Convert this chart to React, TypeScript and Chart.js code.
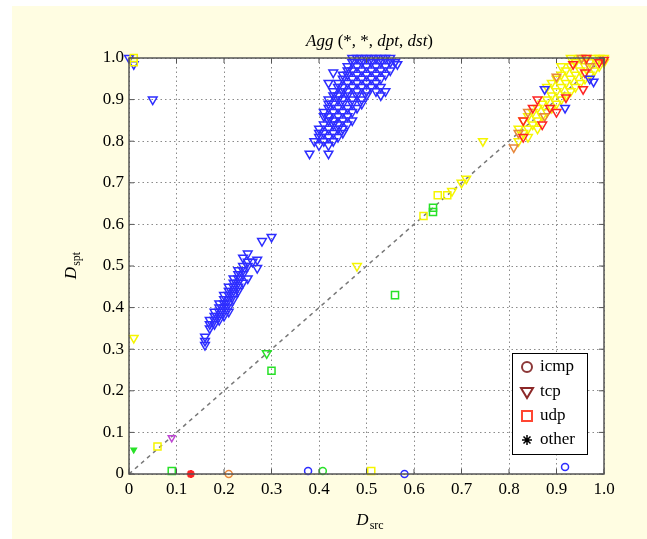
import React, { useEffect, useRef } from 'react';
import { Chart, registerables } from 'chart.js';
Chart.register(...registerables);

type P = [number, number];

const TICKS = [0, 0.1, 0.2, 0.3, 0.4, 0.5, 0.6, 0.7, 0.8, 0.9, 1.0];
const LEGEND_LABELS = ['icmp', 'tcp', 'udp', 'other'];
const TITLE_PARTS: [string, boolean][] = [['Agg', true], [' (*, *, ', false], ['dpt', true], [', ', false], ['dst', true], [')', false]];
const X_LABEL: [string, string] = ['D', 'src'];
const Y_LABEL: [string, string] = ['D', 'spt'];

// tcp (down-triangles), blue
const tcpBlue: P[] = [
  [0.0, 1.0], [0.01, 0.985], [0.05, 0.90],
  [0.47, 1.0], [0.48, 1.0], [0.49, 1.0], [0.50, 1.0], [0.51, 1.0], [0.52, 1.0], [0.53, 1.0], [0.54, 1.0], [0.55, 1.0],
  [0.47, 0.99], [0.49, 0.99], [0.51, 0.99], [0.53, 0.99], [0.55, 0.99], [0.56, 0.99],
  [0.46, 0.98], [0.48, 0.98], [0.50, 0.98], [0.52, 0.98], [0.54, 0.98], [0.565, 0.985],
  [0.46, 0.97], [0.47, 0.97], [0.49, 0.97], [0.51, 0.97], [0.53, 0.97], [0.55, 0.97],
  [0.45, 0.96], [0.46, 0.96], [0.48, 0.96], [0.50, 0.96], [0.52, 0.96], [0.54, 0.96],
  [0.45, 0.95], [0.47, 0.95], [0.49, 0.95], [0.51, 0.95], [0.53, 0.95],
  [0.44, 0.94], [0.46, 0.94], [0.48, 0.94], [0.50, 0.94], [0.52, 0.94],
  [0.44, 0.93], [0.45, 0.93], [0.47, 0.93], [0.49, 0.93], [0.51, 0.93], [0.53, 0.93],
  [0.43, 0.92], [0.45, 0.92], [0.46, 0.92], [0.48, 0.92], [0.50, 0.92], [0.52, 0.92], [0.54, 0.92],
  [0.43, 0.91], [0.44, 0.91], [0.46, 0.91], [0.48, 0.91], [0.50, 0.91], [0.53, 0.91],
  [0.42, 0.90], [0.44, 0.90], [0.45, 0.90], [0.47, 0.90], [0.49, 0.90],
  [0.42, 0.89], [0.43, 0.89], [0.45, 0.89], [0.47, 0.89], [0.49, 0.89],
  [0.42, 0.88], [0.44, 0.88], [0.46, 0.88], [0.48, 0.88],
  [0.41, 0.87], [0.43, 0.87], [0.45, 0.87], [0.47, 0.87],
  [0.41, 0.86], [0.42, 0.86], [0.44, 0.86], [0.46, 0.86],
  [0.42, 0.85], [0.43, 0.85], [0.45, 0.85], [0.47, 0.85],
  [0.41, 0.84], [0.43, 0.84], [0.44, 0.84], [0.46, 0.84],
  [0.40, 0.83], [0.42, 0.83], [0.44, 0.83], [0.45, 0.83],
  [0.40, 0.82], [0.41, 0.82], [0.43, 0.82], [0.45, 0.82],
  [0.40, 0.81], [0.42, 0.81], [0.44, 0.81],
  [0.39, 0.80], [0.41, 0.80], [0.43, 0.80],
  [0.40, 0.79], [0.42, 0.79],
  [0.38, 0.77], [0.42, 0.77], [0.42, 0.94], [0.43, 0.965],
  [0.30, 0.57], [0.28, 0.56], [0.25, 0.53],
  [0.24, 0.52], [0.27, 0.515], [0.25, 0.51], [0.26, 0.51],
  [0.24, 0.50], [0.25, 0.50], [0.27, 0.495],
  [0.23, 0.49], [0.24, 0.49], [0.23, 0.48], [0.24, 0.48],
  [0.22, 0.47], [0.23, 0.47], [0.25, 0.47],
  [0.22, 0.46], [0.23, 0.46], [0.24, 0.46],
  [0.21, 0.45], [0.22, 0.45], [0.23, 0.45],
  [0.21, 0.44], [0.22, 0.44], [0.23, 0.44],
  [0.20, 0.43], [0.21, 0.43], [0.22, 0.43],
  [0.20, 0.42], [0.21, 0.42], [0.22, 0.42],
  [0.19, 0.41], [0.20, 0.41], [0.21, 0.41],
  [0.19, 0.40], [0.20, 0.40], [0.21, 0.40],
  [0.18, 0.39], [0.19, 0.39], [0.20, 0.39], [0.21, 0.39],
  [0.18, 0.38], [0.19, 0.38], [0.20, 0.38],
  [0.17, 0.37], [0.18, 0.37], [0.19, 0.37],
  [0.17, 0.36], [0.18, 0.36], [0.17, 0.35],
  [0.16, 0.33], [0.16, 0.32], [0.16, 0.31],
  [0.875, 0.925], [0.918, 0.88], [0.978, 0.943], [0.97, 0.95],
];

const tcpYellow: P[] = [
  [0.01, 0.327], [0.48, 0.50], [0.68, 0.68], [0.70, 0.70], [0.71, 0.71], [0.745, 0.80],
  [0.82, 0.80], [0.82, 0.83], [0.83, 0.82], [0.83, 0.85], [0.84, 0.83], [0.84, 0.86],
  [0.85, 0.84], [0.85, 0.87], [0.86, 0.85], [0.86, 0.88], [0.87, 0.86], [0.87, 0.89],
  [0.88, 0.87], [0.88, 0.90], [0.88, 0.93], [0.89, 0.88], [0.89, 0.91], [0.89, 0.94],
  [0.90, 0.89], [0.90, 0.92], [0.90, 0.95], [0.91, 0.90], [0.91, 0.93], [0.91, 0.96],
  [0.92, 0.91], [0.92, 0.94], [0.92, 0.97], [0.93, 0.92], [0.93, 0.95], [0.93, 0.98],
  [0.94, 0.93], [0.94, 0.96], [0.94, 0.99], [0.95, 0.94], [0.95, 0.97], [0.95, 1.0],
  [0.96, 0.95], [0.96, 0.98], [0.97, 0.96], [0.97, 0.99], [0.98, 0.97], [0.98, 1.0],
  [0.99, 0.98], [0.99, 1.0], [1.0, 0.99], [1.0, 1.0], [0.96, 1.0], [0.93, 1.0],
  [0.91, 0.98], [0.86, 0.83], [0.84, 0.81],
];

const tcpRed: P[] = [
  [0.83, 0.81], [0.83, 0.85], [0.86, 0.90], [0.886, 0.88], [0.87, 0.84], [0.92, 0.905],
  [0.956, 0.925], [0.96, 0.965], [0.935, 0.985], [0.963, 1.0], [1.0, 0.995], [0.90, 0.87],
  [0.85, 0.88], [0.99, 0.99],
];

const tcpOrange: P[] = [
  [0.81, 0.785], [0.84, 0.87], [0.875, 0.86], [0.90, 0.955], [0.953, 1.0], [0.97, 0.98], [0.82, 0.82],
];

const tcpGreen: P[] = [[0.29, 0.29]];
const tcpGreenSmall: P[] = [[0.01, 0.058]];
const tcpPurple: P[] = [[0.09, 0.087]];

const udpYellow: P[] = [[0.01, 1.0], [0.01, 0.99], [0.06, 0.066], [0.51, 0.007], [0.62, 0.62], [0.65, 0.67], [0.67, 0.67]];
const udpGreen: P[] = [[0.09, 0.007], [0.30, 0.248], [0.56, 0.43], [0.64, 0.63], [0.64, 0.64]];

const icmpBlue: P[] = [[0.377, 0.007], [0.58, 0.0], [0.918, 0.017]];
const icmpGreen: P[] = [[0.408, 0.007]];
const icmpOrange: P[] = [[0.21, 0.0]];

const otherRed: P[] = [[0.13, 0.0]];

const DIAGONAL: P[] = [[0, 0], [1, 1]];

const BLUE = 'rgb(45,45,255)';
const YELLOW = 'rgb(245,245,0)';
const RED = 'rgb(255,35,35)';
const ORANGE = 'rgb(230,135,60)';
const GREEN = 'rgb(40,225,40)';
const PURPLE = 'rgb(190,70,210)';

const pts = (a: P[]) => a.map(([x, y]) => ({ x, y }));

function ds(data: P[], style: string, color: string, radius: number, rotation = 0, fill = false, bw = 1.5) {
  return {
    type: 'scatter' as const,
    data: pts(data),
    pointStyle: style,
    pointRotation: rotation,
    pointRadius: radius,
    pointBorderColor: color,
    pointBackgroundColor: fill ? color : 'rgba(0,0,0,0)',
    pointBorderWidth: bw,
    showLine: false,
    clip: false as any,
  };
}

const SERIF = '"Liberation Serif", "DejaVu Serif", serif';

const fmt = (v: number) => (Math.abs(v) < 1e-9 ? '0' : v.toFixed(1));

const decorPlugin = {
  id: 'decor',
  beforeDraw(chart: any) {
    const { ctx, chartArea: a } = chart;
    ctx.save();
    ctx.fillStyle = '#ffffff';
    ctx.fillRect(0, 0, chart.width, chart.height);
    ctx.fillStyle = '#fffde2';
    ctx.fillRect(12, 6, chart.width - 12, chart.height - 6);
    ctx.fillStyle = '#ffffff';
    ctx.fillRect(a.left, a.top, a.right - a.left, a.bottom - a.top);
    ctx.restore();
  },
  afterDraw(chart: any) {
    const { ctx, chartArea: a, scales } = chart;
    ctx.save();
    // box
    ctx.strokeStyle = '#555555';
    ctx.lineWidth = 1.5;
    ctx.strokeRect(a.left, a.top, a.right - a.left, a.bottom - a.top);
    // inward ticks
    ctx.lineWidth = 1;
    ctx.strokeStyle = '#555555';
    TICKS.forEach((v) => {
      const px = scales.x.getPixelForValue(v);
      ctx.beginPath();
      ctx.moveTo(px, a.bottom); ctx.lineTo(px, a.bottom - 5);
      ctx.moveTo(px, a.top); ctx.lineTo(px, a.top + 5);
      const py = scales.y.getPixelForValue(v);
      ctx.moveTo(a.left, py); ctx.lineTo(a.left + 5, py);
      ctx.moveTo(a.right, py); ctx.lineTo(a.right - 5, py);
      ctx.stroke();
    });
    // title
    ctx.fillStyle = '#000';
    ctx.textBaseline = 'alphabetic';
    const cx = (a.left + a.right) / 2 + 3;
    let total = 0;
    TITLE_PARTS.forEach(([t, it]) => {
      ctx.font = `${it ? 'italic ' : ''}17px ${SERIF}`;
      total += ctx.measureText(t).width;
    });
    let tx = cx - total / 2;
    TITLE_PARTS.forEach(([t, it]) => {
      ctx.font = `${it ? 'italic ' : ''}17px ${SERIF}`;
      ctx.textAlign = 'left';
      ctx.fillText(t, tx, 46);
      tx += ctx.measureText(t).width;
    });
    // x label
    const drawSub = (main: string, sub: string) => {
      ctx.font = `italic 17px ${SERIF}`;
      const w1 = ctx.measureText(main).width;
      ctx.font = `12px ${SERIF}`;
      const w2 = ctx.measureText(sub).width;
      const start = -(w1 + w2) / 2;
      ctx.textAlign = 'left';
      ctx.font = `italic 17px ${SERIF}`;
      ctx.fillText(main, start, 0);
      ctx.font = `12px ${SERIF}`;
      ctx.fillText(sub, start + w1 + 1, 4);
    };
    ctx.save();
    ctx.translate(cx, 525);
    drawSub(X_LABEL[0], X_LABEL[1]);
    ctx.restore();
    ctx.save();
    ctx.translate(76, (a.top + a.bottom) / 2);
    ctx.rotate(-Math.PI / 2);
    drawSub(Y_LABEL[0], Y_LABEL[1]);
    ctx.restore();
    // legend
    const lx = 512, ly = 353, lw = 75, lh = 101;
    ctx.fillStyle = '#ffffff';
    ctx.fillRect(lx, ly, lw, lh);
    ctx.strokeStyle = '#000';
    ctx.lineWidth = 1;
    ctx.strokeRect(lx + 0.5, ly + 0.5, lw, lh);
    const rows = [367, 392, 416, 440];
    const sx = 527;
    LEGEND_LABELS.forEach((lab, i) => {
      const y = rows[i];
      ctx.lineWidth = 2;
      if (i === 0) {
        ctx.strokeStyle = 'rgb(140,55,55)';
        ctx.beginPath(); ctx.arc(sx, y, 5, 0, Math.PI * 2); ctx.stroke();
      } else if (i === 1) {
        ctx.strokeStyle = 'rgb(140,40,40)';
        ctx.beginPath();
        ctx.moveTo(sx - 6, y - 4); ctx.lineTo(sx + 6, y - 4); ctx.lineTo(sx, y + 6); ctx.closePath(); ctx.stroke();
      } else if (i === 2) {
        ctx.strokeStyle = 'rgb(255,70,50)';
        ctx.strokeRect(sx - 5, y - 5, 10, 10);
      } else {
        ctx.strokeStyle = '#000';
        ctx.lineWidth = 1.5;
        ctx.beginPath();
        ctx.moveTo(sx - 5, y); ctx.lineTo(sx + 5, y);
        ctx.moveTo(sx, y - 5); ctx.lineTo(sx, y + 5);
        ctx.moveTo(sx - 3.5, y - 3.5); ctx.lineTo(sx + 3.5, y + 3.5);
        ctx.moveTo(sx - 3.5, y + 3.5); ctx.lineTo(sx + 3.5, y - 3.5);
        ctx.stroke();
      }
      ctx.fillStyle = '#000';
      ctx.font = `17px ${SERIF}`;
      ctx.textAlign = 'left';
      ctx.textBaseline = 'middle';
      ctx.fillText(lab, 540, y);
    });
    ctx.restore();
  },
};

export default function App() {
  const ref = useRef<HTMLCanvasElement>(null);
  useEffect(() => {
    if (!ref.current) return;
    const axis = (isX: boolean) => ({
      type: 'linear' as const,
      min: 0,
      max: 1,
      afterBuildTicks: (scale: any) => { scale.ticks = TICKS.map((v) => ({ value: v })); },
      afterFit: (scale: any) => { if (isX) scale.height = 65; else scale.width = 129; },
      ticks: {
        callback: (v: any) => fmt(Number(v)),
        color: '#000',
        font: { family: SERIF, size: 17 },
        padding: isX ? 5 : 5,
        autoSkip: false,
        maxRotation: 0,
      },
      grid: { color: '#8a8a8a', lineWidth: 1, drawTicks: false },
      border: { display: false, dash: [1.5, 3] },
    });
    const chart = new Chart(ref.current, {
      type: 'scatter',
      data: {
        datasets: [
          ds(otherRed, 'star', RED, 4, 0, false, 2.5),
          ds(icmpBlue, 'circle', BLUE, 3.5),
          ds(icmpGreen, 'circle', GREEN, 3.5),
          ds(icmpOrange, 'circle', ORANGE, 3.5),
          ds(udpGreen, 'rect', GREEN, 5),
          ds(udpYellow, 'rect', YELLOW, 5),
          ds(tcpPurple, 'triangle', PURPLE, 4, 180),
          ds(tcpGreenSmall, 'triangle', GREEN, 3, 180, true),
          ds(tcpGreen, 'triangle', GREEN, 5, 180),
          ds(tcpBlue, 'triangle', BLUE, 5, 180),
          ds(tcpRed, 'triangle', RED, 5, 180),
          ds(tcpOrange, 'triangle', ORANGE, 5, 180),
          ds(tcpYellow, 'triangle', YELLOW, 5, 180),
          {
            type: 'line' as const,
            data: pts(DIAGONAL),
            borderColor: '#777777',
            borderWidth: 1.5,
            borderDash: [4, 4],
            pointRadius: 0,
            fill: false,
          } as any,
        ],
      },
      options: {
        responsive: false,
        animation: false,
        events: [],
        layout: { padding: { top: 58, right: 43, left: 0, bottom: 0 } },
        plugins: { legend: { display: false }, title: { display: false }, tooltip: { enabled: false } },
        scales: { x: axis(true), y: axis(false) },
      },
      plugins: [decorPlugin],
    } as any);
    return () => chart.destroy();
  }, []);
  return (
    <div style={{ position: 'absolute', left: 0, top: 0, width: 647, height: 539 }}>
      <canvas ref={ref} width={647} height={539} style={{ width: 647, height: 539, display: 'block' }} />
    </div>
  );
}
